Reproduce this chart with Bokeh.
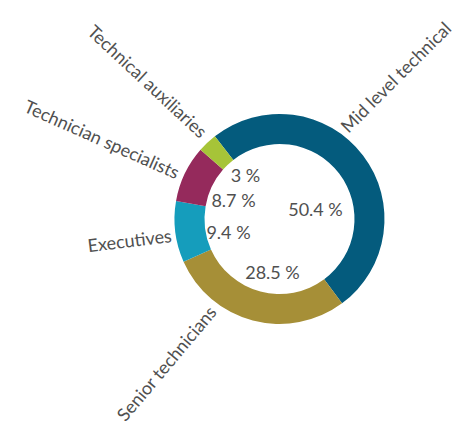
import math

from bokeh.core.properties import value
from bokeh.embed import file_html
from bokeh.models import ColumnDataSource, Range1d
from bokeh.plotting import figure
from bokeh.resources import INLINE

# Workforce breakdown by professional category (percent of staff)
categories = [
    "Mid level technical",
    "Senior technicians",
    "Executives",
    "Technician specialists",
    "Technical auxiliaries",
]
shares = [50.4, 28.5, 9.4, 8.7, 3.0]
colors = ["#045b7d", "#a68f37", "#159dbc", "#952a5c", "#a6c438"]

W, H = 458, 430
CX, CY = 279, H - 218.5           # ring centre (y measured upward)
R_IN, R_OUT = 75, 105
START_DEG = 128                   # first slice starts here, slices run clockwise

# Placement of the texts around the ring (screen offsets from the centre)
pct_offsets = [(36, -10), (-7, 53), (-51, 13), (-46, -19), (-34, -44)]
name_anchor = [(64, -90), (-67, 89), (-108, 16), (-101, -46), (-75, -85)]
name_angle = [45, 50, 7, -24, -43]
name_align = ["left", "right", "right", "right", "right"]

starts, ends = [], []
acc = 0.0
for s in shares:
    starts.append(math.radians(START_DEG - 3.6 * acc))
    acc += s
    ends.append(math.radians(START_DEG - 3.6 * acc))

ring = ColumnDataSource(dict(
    cat=categories, share=shares, color=colors, start=starts, end=ends,
))

p = figure(
    width=W, height=H,
    x_range=Range1d(0, W), y_range=Range1d(0, H),
    output_backend="svg", toolbar_location=None,
    min_border=0, min_border_left=0, min_border_right=0,
    min_border_top=0, min_border_bottom=0,
)
p.axis.visible = False
p.grid.visible = False
p.outline_line_color = None
p.background_fill_color = "white"
p.border_fill_color = "white"

p.annular_wedge(
    x=CX, y=CY, inner_radius=R_IN, outer_radius=R_OUT,
    start_angle="start", end_angle="end", direction="clock",
    fill_color="color", line_color=None, source=ring,
)

pct = ColumnDataSource(dict(
    x=[CX + dx for dx, _ in pct_offsets],
    y=[CY - dy for _, dy in pct_offsets],
    t=[f"{s:g} %" for s in shares],
))
p.text(
    x="x", y="y", text="t", source=pct,
    text_font=value("Lato"), text_font_size="18px", text_color="#505050",
    text_align="center", text_baseline="middle",
)

for cat, (dx, dy), ang, al in zip(categories, name_anchor, name_angle, name_align):
    p.text(
        x=[CX + dx], y=[CY - dy], text=[cat], angle=math.radians(ang),
        text_font=value("Lato"), text_font_size="18px", text_color="#505050",
        text_align=al, text_baseline="middle",
    )

open("out.html", "w").write(file_html(p, INLINE))
